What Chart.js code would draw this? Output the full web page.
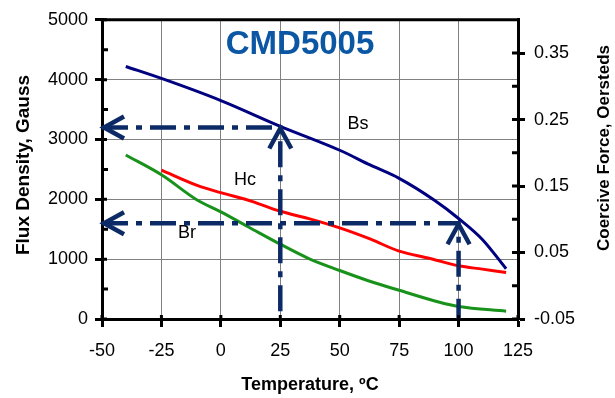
<!DOCTYPE html>
<html>
<head>
<meta charset="utf-8">
<script src="https://cdn.jsdelivr.net/npm/chart.js@4.4.0/dist/chart.umd.min.js"></script>
<style>
    body { margin: 0; background: #fff; }
    #wrap { width: 615px; height: 398px; }
</style>
</head>
<body>
<div id="wrap"><canvas id="chartCMD" width="615" height="398"></canvas></div>
<script>
// dados (temperatura em ºC)
const bsTemp = [-40, -25, 0, 25, 50, 63, 75, 90, 100, 110, 120];
const bsFlux = [4220, 4020, 3650, 3220, 2820, 2570, 2350, 1980, 1680, 1330, 840];

const hcTemp = [-25, -10, 0, 13, 25, 37, 50, 63, 75, 88, 100, 110, 120];
const hcForce = [0.174, 0.151, 0.140, 0.127, 0.112, 0.101, 0.087, 0.070, 0.052, 0.041, 0.030, 0.025, 0.020];

const brTemp = [-40, -25, -10, 0, 12, 25, 37, 50, 62, 75, 92, 100, 120];
const brFlux = [2740, 2410, 1990, 1790, 1530, 1250, 1010, 810, 640, 480, 280, 210, 130];

// linhas de leitura (traço-ponto com seta)
const guideTemp = [25, 100];
const guideFlux = [3200, 1600];

const fluxTicks = [0, 1000, 2000, 3000, 4000, 5000];
const forceTicks = [-0.05, 0.05, 0.15, 0.25, 0.35];
const forceMinor = [0, 0.10, 0.20, 0.30];
const fluxMinor = [500, 1500, 2500, 3500, 4500];

// rótulos das curvas (temperatura, fluxo)
const curveLabels = ['Bs', 'Hc', 'Br'];
const labelTemp = [57.7, 10.2, -14.2];
const labelFlux = [3260, 2330, 1436];

const FONT = "Arial, 'Liberation Sans', sans-serif";
const GUIDE = '#0c2a66';

function pairs(xs, ys) {
    return xs.map((x, i) => ({ x: x, y: ys[i] }));
}

const guideSets = guideTemp.map((t, i) => ({
    label: 'guide' + i,
    data: [{ x: -50, y: guideFlux[i] }, { x: t, y: guideFlux[i] }, { x: t, y: 0 }],
    yAxisID: 'y',
    borderColor: GUIDE,
    borderWidth: 4.5,
    borderDash: [26, 8, 6, 8],
    pointRadius: 0,
    tension: 0
}));

const extras = {
    id: 'extras',
    afterDraw(chart) {
        const c = chart.ctx;
        const a = chart.chartArea;
        const x = chart.scales.x, y = chart.scales.y, y1 = chart.scales.y1;
        c.save();
        c.strokeStyle = '#000';
        c.lineWidth = 3;
        // borda superior
        c.beginPath();
        c.moveTo(a.left - 1.5, a.top);
        c.lineTo(a.right + 1.5, a.top);
        c.stroke();
        // marcas internas
        c.beginPath();
        fluxTicks.forEach(v => { const p = y.getPixelForValue(v); c.moveTo(a.left, p); c.lineTo(a.left + 5, p); });
        fluxMinor.forEach(v => { const p = y.getPixelForValue(v); c.moveTo(a.left, p); c.lineTo(a.left + 6, p); });
        forceTicks.forEach(v => { const p = y1.getPixelForValue(v); c.moveTo(a.right, p); c.lineTo(a.right - 6, p); });
        forceMinor.forEach(v => { const p = y1.getPixelForValue(v); c.moveTo(a.right, p); c.lineTo(a.right - 6, p); });
        x.ticks.forEach(t => { const p = x.getPixelForValue(t.value); c.moveTo(p, a.bottom); c.lineTo(p, a.bottom - 4); });
        c.stroke();

        // pontas das setas
        c.strokeStyle = GUIDE;
        c.lineWidth = 4.5;
        c.lineJoin = 'miter';
        guideTemp.forEach((t, i) => {
            const py = y.getPixelForValue(guideFlux[i]);
            const px = x.getPixelForValue(t);
            const lx = x.getPixelForValue(-50) + 2;
            c.beginPath();
            c.moveTo(lx + 20, py - 11);
            c.lineTo(lx, py);
            c.lineTo(lx + 20, py + 11);
            c.stroke();
            c.beginPath();
            c.moveTo(px - 11, py + 21);
            c.lineTo(px, py + 1);
            c.lineTo(px + 11, py + 21);
            c.stroke();
        });

        // rótulos
        c.fillStyle = '#000';
        c.textAlign = 'center';
        c.textBaseline = 'middle';
        c.font = '18px ' + FONT;
        curveLabels.forEach((s, i) => {
            c.fillText(s, x.getPixelForValue(labelTemp[i]), y.getPixelForValue(labelFlux[i]));
        });
        c.fillStyle = '#0b57a4';
        c.font = 'bold 33px ' + FONT;
        c.fillText('CMD5005', x.getPixelForValue(33.3), y.getPixelForValue(4580));

        // títulos dos eixos
        c.fillStyle = '#000';
        c.font = 'bold 18px ' + FONT;
        c.fillText('Temperature, ºC', (a.left + a.right) / 2, 385);
        c.save();
        c.translate(24, 165);
        c.rotate(-Math.PI / 2);
        c.font = 'bold 19px ' + FONT;
        c.fillText('Flux Density, Gauss', 0, 0);
        c.restore();
        c.save();
        c.translate(604, 148);
        c.rotate(-Math.PI / 2);
        c.font = 'bold 17px ' + FONT;
        c.fillText('Coercive Force, Oersteds', 0, 0);
        c.restore();
        c.restore();
    }
};

const tickFont = { size: 18, family: FONT };

new Chart(document.getElementById('chartCMD'), {
    type: 'line',
    data: {
        datasets: [
            ...guideSets,
            {
                label: 'Bs',
                data: pairs(bsTemp, bsFlux),
                yAxisID: 'y',
                borderColor: '#000080',
                borderWidth: 3,
                pointRadius: 0,
                cubicInterpolationMode: 'monotone'
            },
            {
                label: 'Hc',
                data: pairs(hcTemp, hcForce),
                yAxisID: 'y1',
                borderColor: '#ff0000',
                borderWidth: 3,
                pointRadius: 0,
                cubicInterpolationMode: 'monotone'
            },
            {
                label: 'Br',
                data: pairs(brTemp, brFlux),
                yAxisID: 'y',
                borderColor: '#18921a',
                borderWidth: 3,
                pointRadius: 0,
                cubicInterpolationMode: 'monotone'
            }
        ]
    },
    options: {
        responsive: false,
        animation: false,
        devicePixelRatio: 1,
        layout: { padding: { top: 15, left: 0, right: 0, bottom: 0 } },
        plugins: {
            legend: { display: false },
            tooltip: { enabled: false }
        },
        scales: {
            x: {
                type: 'linear',
                min: -50,
                max: 125,
                ticks: { stepSize: 25, color: '#000', font: tickFont, padding: 13 },
                grid: { color: '#808080', lineWidth: 1, tickColor: '#000', tickWidth: 3, tickLength: 8 },
                border: { color: '#000', width: 3 },
                afterFit(s) { s.height = 79; }
            },
            y: {
                position: 'left',
                min: 0,
                max: 5000,
                ticks: { stepSize: 1000, color: '#000', font: tickFont, padding: 7, callback: v => v },
                grid: { color: '#808080', lineWidth: 1, tickColor: '#000', tickWidth: 3, tickLength: 7 },
                border: { color: '#000', width: 3 },
                afterFit(s) { s.width = 102; }
            },
            y1: {
                position: 'right',
                min: -0.05,
                max: 0.40,
                afterBuildTicks(s) { s.ticks = forceTicks.map(v => ({ value: v })); },
                ticks: { color: '#000', font: tickFont, padding: 9, callback: v => v.toFixed(2) },
                grid: { drawOnChartArea: false, tickColor: '#000', tickWidth: 3, tickLength: 7 },
                border: { color: '#000', width: 3 },
                afterFit(s) { s.width = 97; }
            }
        }
    },
    plugins: [extras]
});
</script>
</body>
</html>
